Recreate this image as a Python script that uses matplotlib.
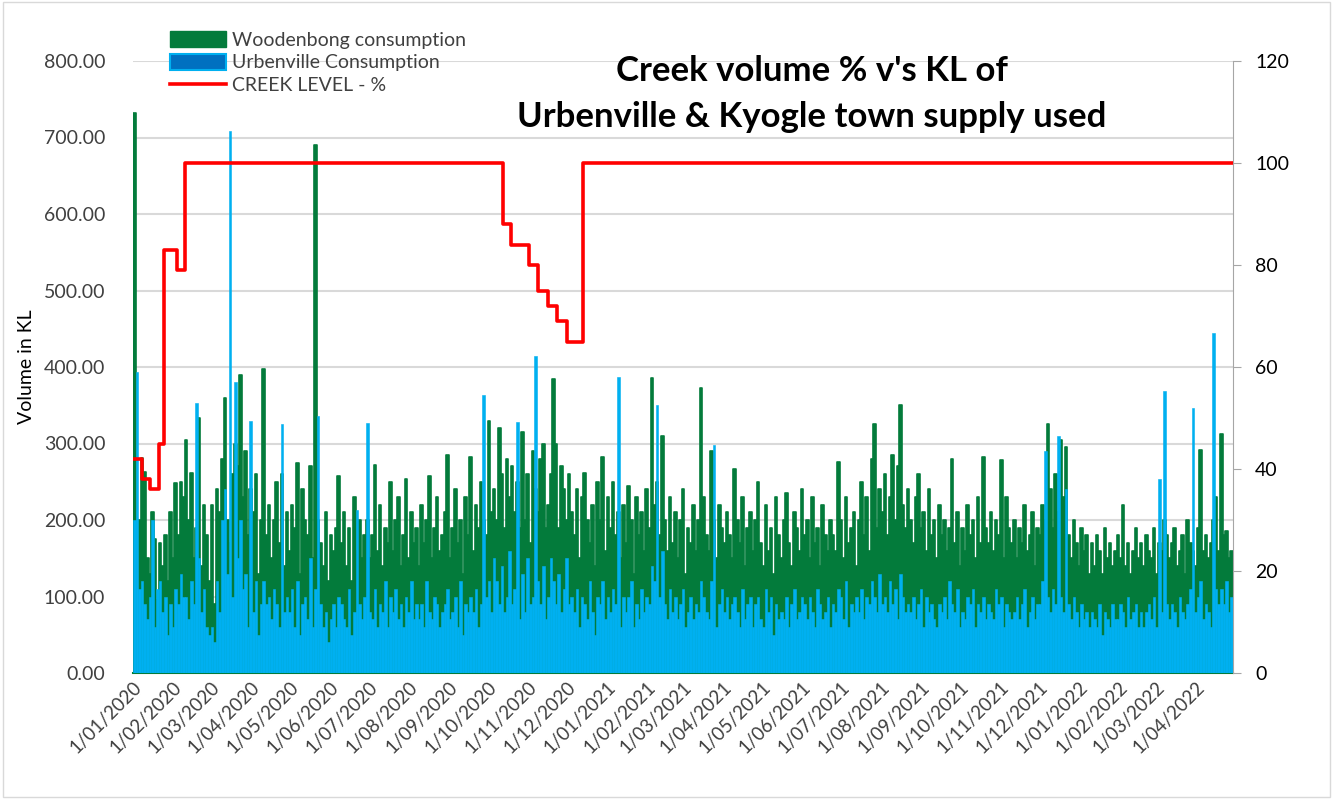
import matplotlib
matplotlib.use("Agg")
import matplotlib.pyplot as plt
import matplotlib.dates as mdates
import pandas as pd
from matplotlib.patches import Patch, Rectangle
from matplotlib.lines import Line2D

# ==========================================================
# DATA  (two-day readings from 1/01/2020, KL)
# ==========================================================

START = "2020-01-01"
END = "2022-04-30"

woodenbong = [
    732, 160, 200, 281, 263, 150, 130, 210, 175, 95,
    170, 140, 180, 120, 210, 150, 248, 180, 250, 230,
    305, 200, 261, 150, 190, 333, 140, 220, 180, 120,
    220, 90, 240, 210, 280, 360, 200, 170, 260, 300,
    270, 390, 230, 290, 180, 240, 210, 260, 130, 200,
    398, 180, 220, 150, 200, 250, 170, 260, 140, 210,
    160, 220, 190, 275, 130, 240, 200, 180, 270, 150,
    690, 200, 170, 140, 210, 120, 180, 160, 190, 258,
    170, 210, 140, 190, 120, 230, 160, 200, 150, 180,
    200, 150, 180, 272, 160, 220, 140, 190, 170, 250,
    160, 200, 230, 140, 180, 253, 150, 210, 170, 190,
    140, 220, 170, 200, 258, 150, 190, 230, 160, 180,
    210, 285, 150, 190, 240, 170, 200, 130, 230, 180,
    283, 160, 220, 190, 250, 200, 180, 330, 210, 240,
    200, 320, 260, 190, 280, 230, 270, 210, 250, 190,
    315, 200, 260, 170, 290, 240, 210, 280, 300, 190,
    220, 260, 384, 300, 190, 270, 240, 200, 260, 210,
    180, 240, 150, 230, 262, 200, 170, 220, 140, 250,
    200, 282, 160, 230, 190, 250, 180, 210, 150, 220,
    170, 245, 200, 130, 230, 180, 210, 160, 240, 190,
    385, 220, 250, 180, 310, 200, 160, 230, 170, 210,
    150, 200, 240, 130, 190, 170, 220, 160, 200, 373,
    230, 180, 160, 290, 200, 150, 220, 190, 170, 210,
    180, 150, 267, 200, 170, 230, 140, 190, 210, 160,
    200, 250, 170, 140, 220, 160, 190, 130, 230, 180,
    150, 200, 235, 170, 140, 210, 190, 160, 240, 180,
    200, 150, 230, 170, 190, 140, 220, 180, 160, 200,
    180, 160, 276, 200, 150, 230, 170, 190, 210, 140,
    200, 250, 180, 230, 160, 280, 325, 190, 240, 210,
    260, 180, 230, 285, 200, 270, 350, 220, 190, 240,
    200, 170, 230, 260, 190, 210, 160, 240, 180, 200,
    150, 220, 180, 200, 160, 190, 280, 170, 210, 140,
    190, 160, 220, 180, 200, 150, 230, 170, 282, 190,
    170, 210, 160, 200, 180, 278, 150, 230, 190, 170,
    200, 150, 190, 170, 220, 160, 180, 210, 140, 190,
    180, 220, 200, 325, 240, 190, 260, 210, 305, 230,
    296, 180, 150, 200, 170, 140, 190, 160, 180, 130,
    170, 140, 180, 160, 130, 190, 150, 170, 140, 160,
    180, 150, 220, 140, 170, 130, 160, 190, 150, 170,
    140, 180, 160, 150, 190, 130, 170, 160, 200, 180,
    150, 170, 190, 140, 160, 180, 130, 200, 170, 160,
    140, 190, 292, 160, 180, 150, 170, 200, 230, 160,
    313, 180, 185, 150, 160, 120,
]

urbenville = [
    200, 393, 110, 120, 90, 70, 100, 200, 60, 110,
    120, 80, 100, 50, 90, 60, 110, 90, 130, 100,
    100, 70, 120, 90, 353, 150, 80, 110, 60, 50,
    60, 40, 120, 80, 200, 240, 130, 708, 100, 380,
    150, 200, 110, 130, 60, 330, 80, 120, 50, 90,
    120, 90, 100, 70, 110, 90, 60, 326, 80, 100,
    80, 110, 60, 120, 50, 90, 100, 70, 150, 60,
    110, 336, 90, 60, 80, 40, 70, 90, 60, 100,
    90, 70, 60, 110, 50, 80, 213, 90, 70, 100,
    327, 80, 70, 110, 60, 90, 80, 120, 60, 100,
    80, 110, 70, 90, 60, 100, 80, 120, 70, 90,
    70, 90, 60, 120, 80, 70, 100, 90, 60, 80,
    90, 110, 70, 80, 100, 60, 120, 50, 90, 80,
    100, 80, 110, 60, 90, 363, 100, 120, 80, 150,
    120, 90, 140, 80, 100, 160, 90, 110, 328, 70,
    130, 80, 150, 90, 100, 415, 120, 90, 140, 70,
    100, 150, 120, 90, 130, 80, 110, 150, 90, 100,
    80, 110, 60, 100, 90, 70, 120, 80, 50, 100,
    90, 120, 70, 100, 80, 110, 90, 387, 60, 100,
    80, 100, 120, 60, 90, 70, 110, 80, 100, 90,
    140, 120, 350, 100, 160, 90, 70, 110, 80, 100,
    70, 90, 110, 60, 80, 100, 70, 90, 80, 120,
    100, 80, 70, 120, 298, 60, 90, 110, 80, 100,
    70, 90, 100, 80, 60, 110, 70, 90, 100, 60,
    90, 100, 70, 60, 110, 80, 100, 50, 90, 70,
    80, 70, 100, 60, 90, 110, 70, 80, 100, 90,
    70, 100, 80, 60, 110, 90, 70, 80, 100, 60,
    90, 80, 110, 100, 70, 120, 60, 90, 80, 100,
    80, 110, 70, 100, 90, 120, 100, 80, 130, 90,
    100, 80, 120, 90, 110, 70, 130, 100, 80, 90,
    80, 100, 70, 90, 110, 60, 100, 80, 90, 70,
    60, 90, 80, 100, 70, 120, 90, 80, 110, 60,
    80, 70, 100, 90, 110, 60, 90, 80, 100, 70,
    90, 80, 70, 110, 90, 100, 60, 90, 80, 70,
    80, 100, 70, 90, 110, 60, 80, 100, 70, 90,
    90, 120, 290, 100, 80, 110, 90, 310, 100, 80,
    240, 90, 70, 100, 80, 60, 90, 70, 80, 60,
    80, 70, 60, 90, 50, 80, 70, 60, 90, 70,
    70, 90, 80, 60, 100, 70, 80, 90, 60, 80,
    60, 80, 90, 70, 100, 60, 253, 80, 368, 90,
    70, 90, 80, 60, 100, 80, 70, 90, 110, 347,
    80, 100, 120, 70, 90, 80, 60, 444, 110, 90,
    110, 90, 120, 80, 100, 85,
]

# creek level (%), value holds from each date until the next one
creek_dates = [
    "2020-01-01", "2020-01-08", "2020-01-14", "2020-01-21", "2020-01-25",
    "2020-02-04", "2020-02-10", "2020-10-13", "2020-10-19", "2020-11-02",
    "2020-11-09", "2020-11-17", "2020-11-24", "2020-12-01", "2020-12-14",
    "2022-05-01",
]
creek_level = [42, 38, 36, 45, 83, 79, 100, 88, 84, 80, 75, 72, 69, 65, 100, 100]

# ==========================================================
# STYLE
# ==========================================================

GREEN = "#037B3B"
BLUE = "#00B0F0"
RED = "#FF0000"
GREY = "#404040"
FONT = ["Lato", "DejaVu Sans"]

plt.rcParams["font.family"] = FONT

bar_x = pd.date_range(START, periods=len(woodenbong), freq="2D")
creek_x = pd.to_datetime(creek_dates)

fig = plt.figure(figsize=(13.35, 7.99), dpi=100)
ax = fig.add_axes([133 / 1335, 126 / 799, 1100 / 1335, 612 / 799])

ax.bar(bar_x, woodenbong, width=2, align="edge",
       color=GREEN, edgecolor=GREEN, linewidth=1.2, joinstyle="round",
       zorder=2)
ax.bar(bar_x, urbenville, width=2, align="edge",
       color=BLUE, edgecolor=BLUE, linewidth=0.4, zorder=3)

ax.set_xlim(pd.Timestamp(START), pd.Timestamp(END))
ax.set_ylim(0, 800)
ax.set_yticks(range(0, 801, 100))
ax.yaxis.set_major_formatter(plt.FuncFormatter(lambda v, p: f"{v:.2f}"))
ax.yaxis.grid(True, color="#D9D9D9", linewidth=1.5)
ax.set_axisbelow(True)

ax.xaxis.set_major_locator(mdates.MonthLocator())
ax.xaxis.set_major_formatter(plt.FuncFormatter(
    lambda v, p: (lambda d: f"{d.day}/{d.month:02d}/{d.year}")(mdates.num2date(v))))
ax.tick_params(axis="x", length=0, pad=4, labelsize=13.5, labelcolor=GREY)
ax.tick_params(axis="y", length=0, pad=20, labelsize=14, labelcolor=GREY)
for lab in ax.get_xticklabels():
    lab.set_rotation(45)
    lab.set_ha("right")
    lab.set_rotation_mode("anchor")

for s in ["left", "top", "right"]:
    ax.spines[s].set_visible(False)
ax.spines["bottom"].set_color(GREEN)
ax.spines["bottom"].set_linewidth(1.5)

ax.set_ylabel("Volume in KL", fontsize=14, color="black", labelpad=6)

# ==========================================================
# CREEK LEVEL ON RIGHT AXIS
# ==========================================================

ax2 = ax.twinx()
ax2.plot(creek_x, creek_level, drawstyle="steps-post", color=RED,
         linewidth=2.6, zorder=5)
ax2.set_ylim(0, 120)
ax2.set_yticks(range(0, 121, 20))
ax2.tick_params(axis="y", direction="out", length=6, color="#A6A6A6",
                labelsize=14, labelcolor="black", pad=10)
for s in ["left", "top", "bottom"]:
    ax2.spines[s].set_visible(False)
ax2.spines["right"].set_color("#A6A6A6")

# ==========================================================
# TITLE / LEGEND / BORDER
# ==========================================================

fig.text(812 / 1335, 1 - 71 / 799, "Creek volume % v's KL of",
         ha="center", va="center", fontsize=25, fontweight="bold")
fig.text(812 / 1335, 1 - 117 / 799, "Urbenville & Kyogle town supply used",
         ha="center", va="center", fontsize=25, fontweight="bold")

handles = [
    Patch(facecolor=GREEN, edgecolor=GREEN, label="Woodenbong consumption"),
    Patch(facecolor="#0070C0", edgecolor=BLUE, linewidth=1.5,
          label="Urbenville Consumption"),
    Line2D([0], [0], color=RED, linewidth=2.6, label="CREEK LEVEL - %"),
]
leg = fig.legend(handles=handles, loc="upper left",
                 bbox_to_anchor=(170 / 1335, 1 - 31 / 799),
                 frameon=False, fontsize=14, handlelength=2.9,
                 handleheight=0.9, handletextpad=0.3, labelspacing=0.25,
                 borderaxespad=0, borderpad=0)
for t in leg.get_texts():
    t.set_color(GREY)

fig.patches.append(Rectangle((0.002, 0.002), 0.994, 0.996,
                             transform=fig.transFigure, fill=False,
                             edgecolor="#D9D9D9", linewidth=1))

fig.savefig("out.png", dpi=100)
